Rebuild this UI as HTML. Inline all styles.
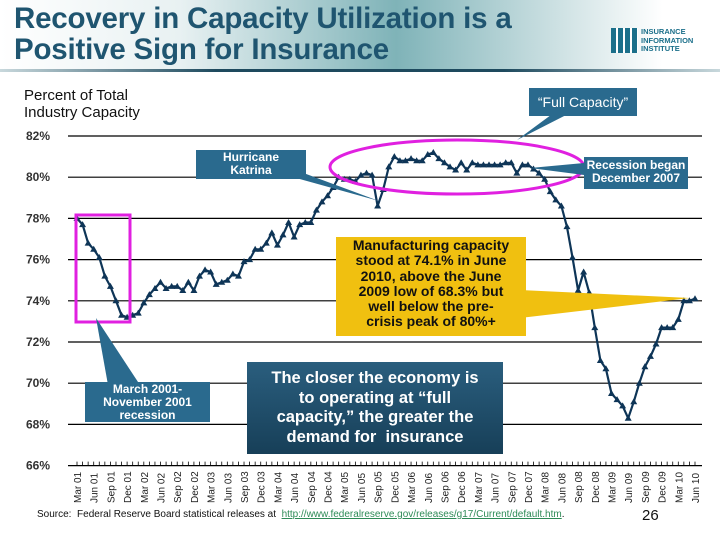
<!DOCTYPE html>
<html><head><meta charset="utf-8"><style>
body{margin:0;width:720px;height:540px;overflow:hidden;background:#fff;font-family:"Liberation Sans",sans-serif;position:relative}
.abs{position:absolute}
.title{left:14px;top:3px;font-size:29.5px;font-weight:bold;color:#1f5570;line-height:31px;letter-spacing:-0.2px}
.box{position:absolute;color:#fff;text-align:center;font-weight:bold;background:#2a6a8e}
</style></head><body>
<div class="abs" style="left:0;top:0;width:720px;height:70px;background:linear-gradient(90deg,#fff 0%,#e8f1f2 25%,#7fb3b8 55%,#cfe2e4 78%,#fff 92%)"></div>
<div class="abs" style="left:0;top:69px;width:720px;height:3px;background:linear-gradient(90deg,#c8d8dc,#1e4a5e 30%,#1e4a5e 70%,#c8d8dc)"></div>
<div class="abs title">Recovery in Capacity Utilization is a<br>Positive Sign for Insurance</div>
<div class="abs" style="left:611px;top:28px;width:100px;height:26px">
<div class="abs" style="left:0;top:0;width:27px;height:25px;background:repeating-linear-gradient(90deg,#1b6f8a 0 5px,#fff 5px 7px)"></div>
<div class="abs" style="left:30px;top:0;font-size:7.5px;font-weight:bold;color:#1b6f8a;line-height:8.5px">INSURANCE<br>INFORMATION<br>INSTITUTE</div></div>
<div class="abs" style="left:24px;top:87px;font-size:15px;line-height:17px;color:#111">Percent of Total<br>Industry Capacity</div>

<svg class="abs" style="left:0;top:0" width="720" height="540">
<g id="grid"></g><g id="ylab"></g><g id="xlab"></g><g id="series"></g>
<rect x="76" y="215" width="54" height="107" fill="none" stroke="#e020e0" stroke-width="3"/>
<ellipse cx="457" cy="167" rx="127" ry="27" fill="none" stroke="#e020e0" stroke-width="3"/>
<polygon points="555,112 572,112 517,140" fill="#2a6a8e"/>
<polygon points="260,168 290,168 379,201" fill="#2a6a8e"/>
<polygon points="584,163 584,175 530,168" fill="#2a6a8e"/>
<polygon points="520,290 520,318 690,298" fill="#f0c010"/>
<polygon points="96,318 108,385 140,385" fill="#2a6a8e"/>
</svg>

<div class="box" style="left:529px;top:88px;width:108px;height:28px;line-height:28px;font-size:14px;font-weight:normal">“Full Capacity”</div>
<div class="box" style="left:196px;top:150px;width:110px;height:28px;font-size:12px;line-height:13px;padding-top:1px">Hurricane<br>Katrina</div>
<div class="box" style="left:584px;top:157px;width:104px;height:30px;font-size:12px;line-height:13px;padding-top:2px">Recession began<br>December 2007</div>
<div class="box" style="left:336px;top:237px;width:190px;height:98px;background:#f0c010;color:#111;font-size:14px;line-height:15.3px;padding-top:1px">Manufacturing capacity<br>stood at 74.1% in June<br>2010, above the June<br>2009 low of 68.3% but<br>well below the pre-<br>crisis peak of 80%+</div>
<div class="box" style="left:85px;top:382px;width:125px;height:39px;font-size:12px;line-height:13px;padding-top:1px">March 2001-<br>November 2001<br>recession</div>
<div class="box" style="left:247px;top:362px;width:256px;height:92px;background:linear-gradient(#2a5e7e,#173f58);font-size:16.5px;line-height:19.5px;padding-top:7px;box-sizing:border-box">The closer the economy is<br>to operating at “full<br>capacity,” the greater the<br>demand for&nbsp; insurance</div>

<div class="abs" style="left:37px;top:509px;font-size:10px;color:#111">Source:&nbsp; Federal Reserve Board statistical releases at&nbsp; <span style="color:#2e8b57;text-decoration:underline">http://www.federalreserve.gov/releases/g17/Current/default.htm</span>.</div>
<div class="abs" style="left:642px;top:507px;font-size:15px;color:#111">26</div>

<script>
const yTicks=[82,80,78,76,74,72,70,68,66];
const values=[78.0,77.7,76.8,76.5,76.1,75.2,74.7,74.0,73.3,73.2,73.3,73.4,73.9,74.3,74.6,74.9,74.6,74.7,74.7,74.5,74.9,74.5,75.2,75.5,75.4,74.8,74.9,75.0,75.3,75.2,75.9,76.0,76.5,76.5,76.8,77.3,76.7,77.2,77.8,77.1,77.7,77.8,77.8,78.4,78.8,79.1,79.5,80.0,79.9,79.9,79.8,80.1,80.2,80.1,78.6,79.4,80.5,81.0,80.8,80.8,80.9,80.8,80.8,81.1,81.2,80.9,80.7,80.5,80.35,80.7,80.35,80.7,80.6,80.6,80.6,80.6,80.6,80.7,80.7,80.2,80.6,80.6,80.4,80.2,79.9,79.3,78.9,78.6,77.6,76.1,74.5,75.4,74.4,72.7,71.1,70.7,69.5,69.2,68.9,68.3,69.1,70.0,70.8,71.3,71.9,72.7,72.7,72.7,73.1,74.0,74.0,74.1];
const xLabels=["Mar 01","Jun 01","Sep 01","Dec 01","Mar 02","Jun 02","Sep 02","Dec 02","Mar 03","Jun 03","Sep 03","Dec 03","Mar 04","Jun 04","Sep 04","Dec 04","Mar 05","Jun 05","Sep 05","Dec 05","Mar 06","Jun 06","Sep 06","Dec 06","Mar 07","Jun 07","Sep 07","Dec 07","Mar 08","Jun 08","Sep 08","Dec 08","Mar 09","Jun 09","Sep 09","Dec 09","Mar 10","Jun 10"];
const NS="http://www.w3.org/2000/svg";
const y=v=>136+(82-v)*20.6;
const x=i=>77+i*(618/111);
function mk(t,a,p){const e=document.createElementNS(NS,t);for(const k in a)e.setAttribute(k,a[k]);p.appendChild(e);return e;}
const G=document.getElementById('grid'),YL=document.getElementById('ylab'),XL=document.getElementById('xlab'),S=document.getElementById('series');
yTicks.forEach(v=>{
 const l=mk('line',{x1:68,x2:702,y1:y(v),y2:y(v),stroke:'#000','stroke-width':1.2},G);
 
 
 const t=mk('text',{x:26,y:y(v)+4,'font-size':12,'font-weight':'bold',fill:'#333','font-family':'Liberation Sans'},YL);
 t.textContent=v+'%';
 
 
});
for(let i=0;i<values.length;i++){
 const tk=mk('line',{x1:x(i),x2:x(i),y1:y(66),y2:y(66)-4,stroke:'#000','stroke-width':0.8},G);
 
 
}
xLabels.forEach((s,k)=>{
 const xx=x(k*3)+4;
 const t=mk('text',{x:0,y:0,transform:`translate(${xx},503) rotate(-90)`,'font-size':10,fill:'#222','font-family':'Liberation Sans'},XL);
 t.textContent=s;
 
 
});
const pts=values.map((v,i)=>x(i).toFixed(1)+','+y(v).toFixed(1)).join(' ');
const pl=mk('polyline',{points:pts,fill:'none',stroke:'#0e3557','stroke-width':2.2,'stroke-linejoin':'round'},S);


values.forEach((v,i)=>{
 const cx=x(i),cy=y(v);
 const m=mk('polygon',{points:`${cx},${cy-3.5} ${cx-3.5},${cy+2.5} ${cx+3.5},${cy+2.5}`,fill:'#0e3557'},S);
 
 
});
</script>
</body></html>
